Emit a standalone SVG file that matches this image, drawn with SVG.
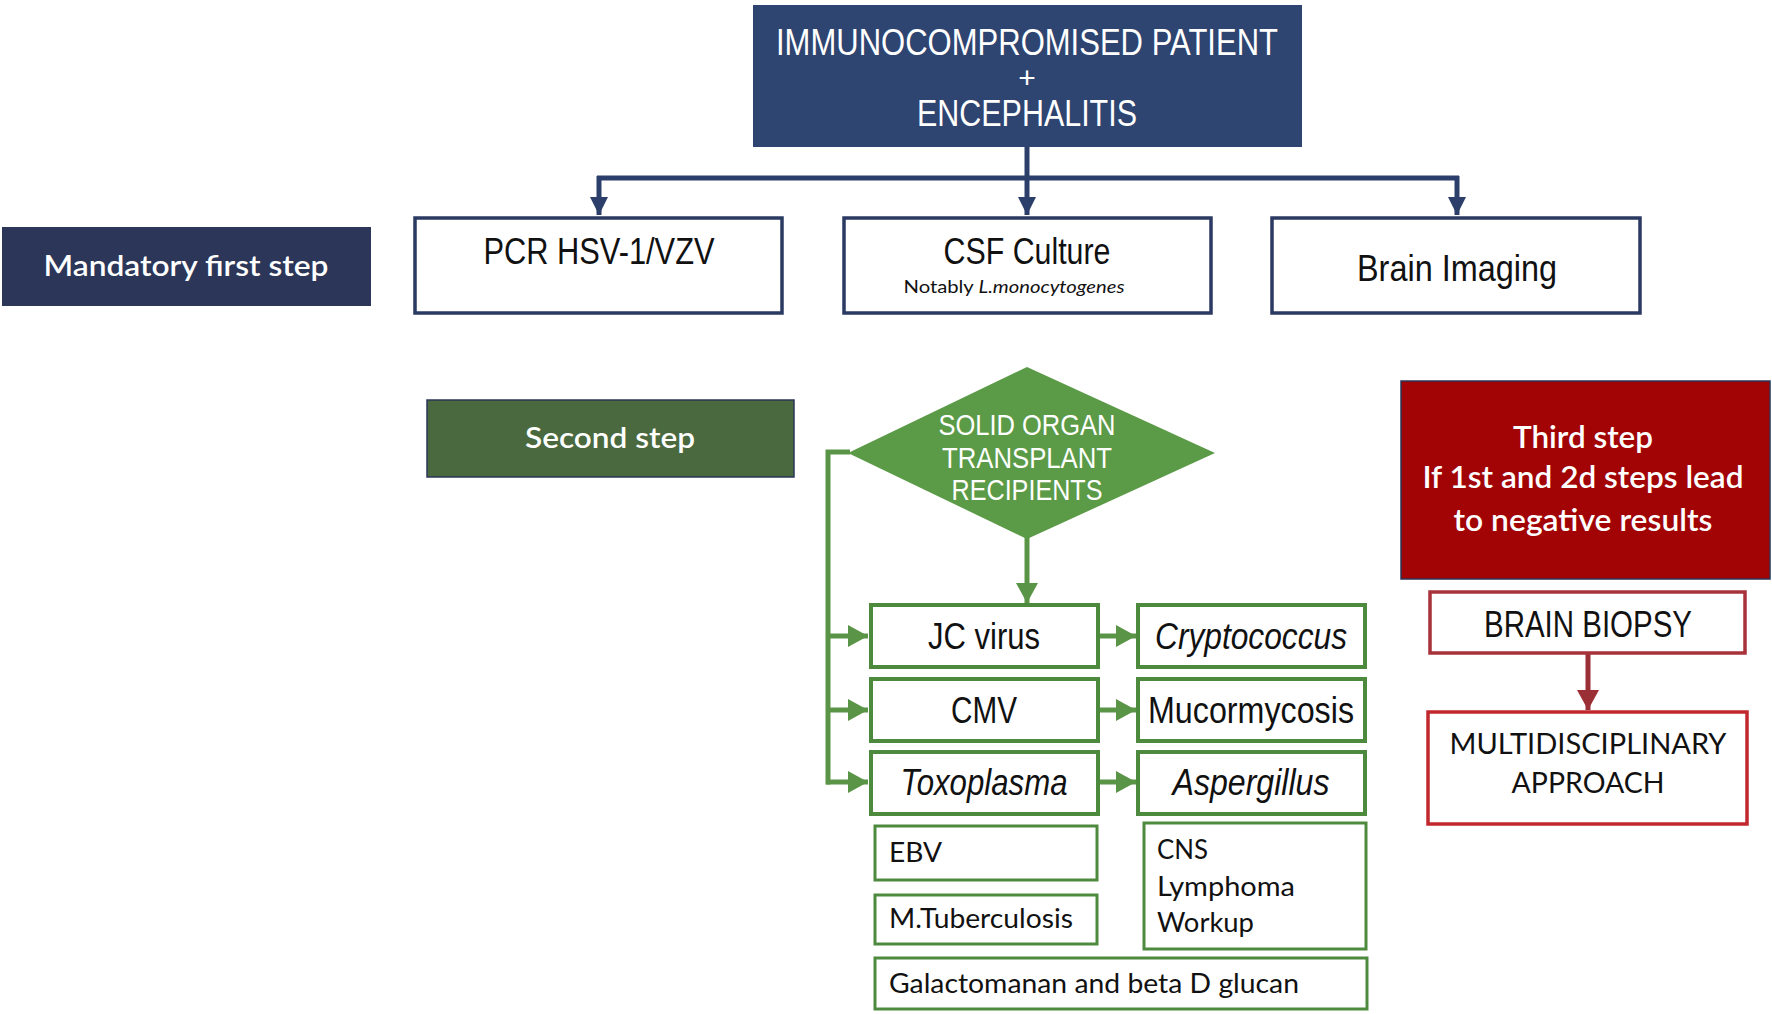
<svg xmlns="http://www.w3.org/2000/svg" width="1772" height="1014" viewBox="0 0 1772 1014">
<style>
.cond{font-family:"Liberation Sans Narrow","Liberation Sans",Arial,sans-serif;}
.cal{font-family:Lato,"Open Sans",sans-serif;}
.w{fill:#ffffff;}
.k{fill:#111111;}
.navybox{fill:#ffffff;stroke:#2A3A62;stroke-width:3.5;}
.gbox{fill:#ffffff;stroke:#4E8A3E;stroke-width:4;}
.gbox2{fill:#ffffff;stroke:#4E8A3E;stroke-width:3;}
.nav{fill:none;stroke:#2B3F6A;stroke-width:5;}
.grn{fill:none;stroke:#5A9446;stroke-width:5;}
.red{fill:none;stroke:#9B2F36;stroke-width:5;}
</style>
<defs>
<marker id="an" markerUnits="userSpaceOnUse" markerWidth="20" markerHeight="20" refX="18" refY="10" orient="auto"><path d="M0,1 L18,10 L0,19 z" fill="#2B3F6A"/></marker>
<marker id="ag" markerUnits="userSpaceOnUse" markerWidth="22" markerHeight="24" refX="20" refY="12" orient="auto"><path d="M0,1 L20,12 L0,23 z" fill="#5A9446"/></marker>
<marker id="ar" markerUnits="userSpaceOnUse" markerWidth="22" markerHeight="24" refX="20" refY="12" orient="auto"><path d="M0,1 L20,12 L0,23 z" fill="#9B2F36"/></marker>
</defs>
<rect width="1772" height="1014" fill="#ffffff"/>

<g id="connectors">
<path class="nav" d="M1027,147 V215" marker-end="url(#an)"/>
<path class="nav" d="M597,178 H1459"/>
<path class="nav" d="M599,176 V215" marker-end="url(#an)"/>
<path class="nav" d="M1457,176 V215" marker-end="url(#an)"/>
<path class="grn" d="M850,452 H828 V784.5"/>
<path class="grn" d="M826,636 H868" marker-end="url(#ag)"/>
<path class="grn" d="M826,710 H868" marker-end="url(#ag)"/>
<path class="grn" d="M826,782 H868" marker-end="url(#ag)"/>
<path class="grn" d="M1027,536 V603" marker-end="url(#ag)"/>
<path class="grn" d="M1098,636 H1136" marker-end="url(#ag)"/>
<path class="grn" d="M1098,710 H1136" marker-end="url(#ag)"/>
<path class="grn" d="M1098,782 H1136" marker-end="url(#ag)"/>
<path class="red" d="M1588,653 V710" marker-end="url(#ar)"/>
</g>

<g id="top">
<rect x="753" y="5" width="549" height="142" fill="#2E4471"/>
<text class="cond w" x="1027" y="55" font-size="36" text-anchor="middle" textLength="502" lengthAdjust="spacingAndGlyphs">IMMUNOCOMPROMISED PATIENT</text>
<text class="cond w" x="1027" y="88" font-size="30" text-anchor="middle">+</text>
<text class="cond w" x="1027" y="126" font-size="36" text-anchor="middle" textLength="220" lengthAdjust="spacingAndGlyphs">ENCEPHALITIS</text>
</g>

<g id="mandatory">
<rect x="2" y="227" width="369" height="79" fill="#2B3658"/>
<text class="cal w" x="186" y="276" font-size="29" font-weight="600" text-anchor="middle" textLength="285" lengthAdjust="spacingAndGlyphs">Mandatory first step</text>
</g>

<g id="pcr">
<rect class="navybox" x="415" y="218" width="367" height="95"/>
<text class="cond k" x="599" y="264" font-size="36" text-anchor="middle" textLength="231" lengthAdjust="spacingAndGlyphs">PCR HSV-1/VZV</text>
</g>

<g id="csf">
<rect class="navybox" x="844" y="218" width="367" height="95"/>
<text class="cond k" x="1027" y="264" font-size="36" text-anchor="middle" textLength="167" lengthAdjust="spacingAndGlyphs">CSF Culture</text>
<text class="cal k" x="1014" y="293" font-size="18" text-anchor="middle" textLength="221" lengthAdjust="spacingAndGlyphs">Notably <tspan font-style="italic">L.monocytogenes</tspan></text>
</g>

<g id="imaging">
<rect class="navybox" x="1272" y="218" width="368" height="95"/>
<text class="cond k" x="1457" y="281" font-size="36" text-anchor="middle" textLength="200" lengthAdjust="spacingAndGlyphs">Brain Imaging</text>
</g>

<g id="second">
<rect x="427" y="400" width="367" height="77" fill="#4A693E" stroke="#2B3658" stroke-width="1.5"/>
<text class="cal w" x="610" y="448" font-size="29" font-weight="600" text-anchor="middle" textLength="170" lengthAdjust="spacingAndGlyphs">Second step</text>
</g>

<g id="diamond">
<polygon points="1027,367 1215,453 1027,539 848,453" fill="#5B9A46"/>
<text class="cond w" x="1027" y="435" font-size="29" text-anchor="middle" textLength="177" lengthAdjust="spacingAndGlyphs">SOLID ORGAN</text>
<text class="cond w" x="1027" y="468" font-size="29" text-anchor="middle" textLength="170" lengthAdjust="spacingAndGlyphs">TRANSPLANT</text>
<text class="cond w" x="1027" y="500" font-size="29" text-anchor="middle" textLength="151" lengthAdjust="spacingAndGlyphs">RECIPIENTS</text>
</g>

<g id="jc">
<rect class="gbox" x="871" y="605" width="227" height="62"/>
<text class="cond k" x="984" y="649" font-size="36" text-anchor="middle" textLength="112" lengthAdjust="spacingAndGlyphs">JC virus</text>
</g>
<g id="cmv">
<rect class="gbox" x="871" y="679" width="227" height="62"/>
<text class="cond k" x="984" y="723" font-size="36" text-anchor="middle" textLength="66" lengthAdjust="spacingAndGlyphs">CMV</text>
</g>
<g id="toxo">
<rect class="gbox" x="871" y="752" width="227" height="62"/>
<text class="cond k" x="984" y="795" font-size="36" font-style="italic" text-anchor="middle" textLength="167" lengthAdjust="spacingAndGlyphs">Toxoplasma</text>
</g>
<g id="crypto">
<rect class="gbox" x="1138" y="605" width="227" height="62"/>
<text class="cond k" x="1251" y="649" font-size="36" font-style="italic" text-anchor="middle" textLength="192" lengthAdjust="spacingAndGlyphs">Cryptococcus</text>
</g>
<g id="mucor">
<rect class="gbox" x="1138" y="679" width="227" height="62"/>
<text class="cond k" x="1251" y="723" font-size="36" text-anchor="middle" textLength="206" lengthAdjust="spacingAndGlyphs">Mucormycosis</text>
</g>
<g id="asper">
<rect class="gbox" x="1138" y="752" width="227" height="62"/>
<text class="cond k" x="1251" y="795" font-size="36" font-style="italic" text-anchor="middle" textLength="157" lengthAdjust="spacingAndGlyphs">Aspergillus</text>
</g>

<g id="ebv">
<rect class="gbox2" x="875" y="826" width="222" height="54"/>
<text class="cal k" x="889" y="862" font-size="27" textLength="53" lengthAdjust="spacingAndGlyphs">EBV</text>
</g>
<g id="mtb">
<rect class="gbox2" x="875" y="895" width="222" height="49"/>
<text class="cal k" x="889" y="928" font-size="27" textLength="184" lengthAdjust="spacingAndGlyphs">M.Tuberculosis</text>
</g>
<g id="cns">
<rect class="gbox2" x="1144" y="823" width="222" height="126"/>
<text class="cal k" x="1157" y="859" font-size="27" textLength="51" lengthAdjust="spacingAndGlyphs">CNS</text>
<text class="cal k" x="1157" y="896" font-size="27" textLength="138" lengthAdjust="spacingAndGlyphs">Lymphoma</text>
<text class="cal k" x="1157" y="932" font-size="27" textLength="97" lengthAdjust="spacingAndGlyphs">Workup</text>
</g>
<g id="galacto">
<rect class="gbox2" x="875" y="958" width="492" height="51"/>
<text class="cal k" x="889" y="993" font-size="27" textLength="410" lengthAdjust="spacingAndGlyphs">Galactomanan and beta D glucan</text>
</g>

<g id="third">
<rect x="1401" y="381" width="369" height="198" fill="#A20406" stroke="#2B3658" stroke-width="1.5"/>
<text class="cal w" x="1583" y="448" font-size="30" font-weight="600" text-anchor="middle" textLength="140" lengthAdjust="spacingAndGlyphs">Third step</text>
<text class="cal w" x="1583" y="488" font-size="30" font-weight="600" text-anchor="middle" textLength="321" lengthAdjust="spacingAndGlyphs">If 1st and 2d steps lead</text>
<text class="cal w" x="1583" y="531" font-size="30" font-weight="600" text-anchor="middle" textLength="259" lengthAdjust="spacingAndGlyphs">to negative results</text>
</g>

<g id="biopsy">
<rect x="1430" y="592" width="315" height="61" fill="#ffffff" stroke="#A8323A" stroke-width="3.5"/>
<text class="cond k" x="1588" y="637" font-size="36" text-anchor="middle" textLength="208" lengthAdjust="spacingAndGlyphs">BRAIN BIOPSY</text>
</g>

<g id="multi">
<rect x="1428" y="712" width="319" height="112" fill="#ffffff" stroke="#C0282E" stroke-width="3.5"/>
<text class="cal k" x="1588" y="754" font-size="28" text-anchor="middle" textLength="277" lengthAdjust="spacingAndGlyphs">MULTIDISCIPLINARY</text>
<text class="cal k" x="1588" y="793" font-size="28" text-anchor="middle" textLength="153" lengthAdjust="spacingAndGlyphs">APPROACH</text>
</g>
</svg>
